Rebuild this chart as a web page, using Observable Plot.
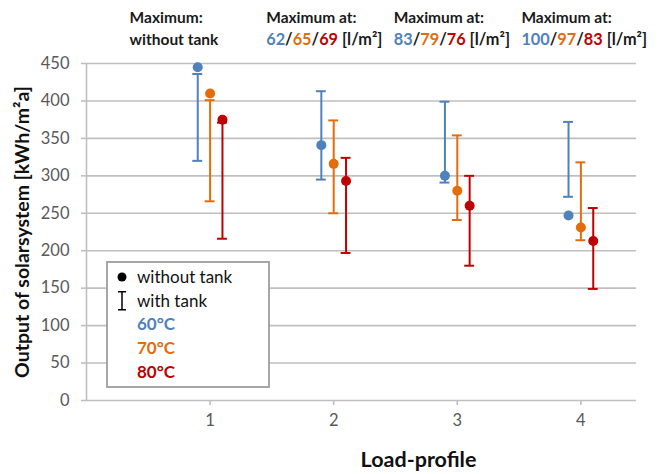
<!DOCTYPE html>
<html>
<head>
<meta charset="utf-8">
<script src="https://cdn.jsdelivr.net/npm/d3@7"></script>
<script src="https://cdn.jsdelivr.net/npm/@observablehq/plot@0.6"></script>
<style>
  html, body { margin: 0; padding: 0; background: #fff; }
  #chart { width: 671px; height: 474px; }
  svg { font-family: Lato, "Open Sans", sans-serif; }
</style>
</head>
<body>
<div id="chart"></div>
<script>
// ---- data ----
const categories = [1, 2, 3, 4];
const series = ["60°C", "70°C", "80°C"];
const seriesColors = ["#4f81bd", "#e46c0a", "#c00000"];
const yTicks = [0, 50, 100, 150, 200, 250, 300, 350, 400, 450];

// "without tank" (dots)
const without60 = [445, 341, 300, 247];
const without70 = [410, 316, 280, 231];
const without80 = [375, 293, 260, 213];
// "with tank" range (error bars)
const tankHigh60 = [436, 413, 399, 372];
const tankLow60  = [320, 295, 291, 272];
const tankHigh70 = [401, 374, 354, 318];
const tankLow70  = [266, 250, 241, 214];
const tankHigh80 = [371, 324, 300, 257];
const tankLow80  = [216, 197, 180, 149];

const noteTitles = ["Maximum:", "Maximum at:", "Maximum at:", "Maximum at:"];
const noteFirstLine = "without tank";
const maxAt60 = [null, 62, 83, 100];
const maxAt70 = [null, 65, 79, 97];
const maxAt80 = [null, 69, 76, 83];
const noteUnit = "[l/m²]";

const yLabel = "Output of solarsystem [kWh/m²a]";
const xLabel = "Load-profile";
const legendItems = ["without tank", "with tank"];

// ---- build table ----
const withoutBy = [without60, without70, without80];
const highBy = [tankHigh60, tankHigh70, tankHigh80];
const lowBy = [tankLow60, tankLow70, tankLow80];
const dodge = [-0.1, 0, 0.1];
const rows = [];
series.forEach((s, si) => categories.forEach((c, ci) => rows.push({
  series: s, cat: c, xp: c + dodge[si],
  dot: withoutBy[si][ci], hi: highBy[si][ci], lo: lowBy[si][ci]
})));

const grid = "#bfbfbf";
const capHalf = 0.04;

const plot = Plot.plot({
  width: 671,
  height: 474,
  marginLeft: 86,
  marginRight: 35,
  marginTop: 63,
  marginBottom: 74,
  x: {domain: [0, 4.45]},
  y: {domain: [0, 450]},
  color: {domain: series, range: seriesColors},
  style: {fontFamily: "Lato, 'Open Sans', sans-serif", background: "#fff"},
  marks: [
    Plot.ruleY(yTicks, {stroke: grid, strokeWidth: 1.6}),
    Plot.ruleX([0], {stroke: grid, strokeWidth: 1.6}),
    Plot.axisY({ticks: yTicks, tickSize: 5, tickPadding: 12, stroke: grid, strokeWidth: 1.6,
      fill: "#595959", fontSize: 16.5, label: null}),
    Plot.axisX({ticks: categories, tickSize: 5, tickPadding: 9, stroke: grid, strokeWidth: 1.6,
      fill: "#595959", fontSize: 16.5, label: null, tickFormat: d => d}),
    Plot.ruleX(rows, {x: "xp", y1: "lo", y2: "hi", stroke: "series", strokeWidth: 2}),
    Plot.ruleY(rows, {y: "hi", x1: d => d.xp - capHalf, x2: d => d.xp + capHalf, stroke: "series", strokeWidth: 2}),
    Plot.ruleY(rows, {y: "lo", x1: d => d.xp - capHalf, x2: d => d.xp + capHalf, stroke: "series", strokeWidth: 2}),
    Plot.dot(rows, {x: "xp", y: "dot", fill: "series", r: 5, stroke: "none"}),
    Plot.text([yLabel], {frameAnchor: "left", textAnchor: "middle", rotate: -90, dx: -64,
      fontSize: 19.5, fontWeight: "bold", fill: "#111"}),
    Plot.text([xLabel], {frameAnchor: "bottom", dx: 57, dy: 66, fontSize: 21.5, fontWeight: "bold", fill: "#111"})
  ]
});

document.getElementById("chart").appendChild(plot);

// ---- annotations at the top ----
const svg = d3.select(plot);
const xs = plot.scale("x");
const noteShift = [-80, -67, -63, -59];
const notes = svg.append("g").attr("font-family", "Lato, 'Open Sans', sans-serif")
  .attr("text-anchor", "start")
  .attr("font-weight", "bold").attr("font-size", 15.5).attr("fill", "#1a1a1a");
categories.forEach((c, i) => {
  const x0 = xs.apply(c) + noteShift[i];
  notes.append("text").attr("x", x0).attr("y", 23).text(noteTitles[i]);
  const t = notes.append("text").attr("x", x0).attr("y", 45).attr("font-size", 16.3);
  if (maxAt60[i] == null) {
    t.attr("font-size", 15.5).text(noteFirstLine);
  } else {
    t.append("tspan").attr("fill", seriesColors[0]).text(maxAt60[i]);
    t.append("tspan").text("/");
    t.append("tspan").attr("fill", seriesColors[1]).text(maxAt70[i]);
    t.append("tspan").text("/");
    t.append("tspan").attr("fill", seriesColors[2]).text(maxAt80[i]);
    t.append("tspan").text(" " + noteUnit);
  }
});

// ---- legend box ----
const lg = svg.append("g").attr("font-family", "Lato, 'Open Sans', sans-serif")
  .attr("text-anchor", "start").attr("font-size", 17);
const lx = 107, ly = 262;
lg.append("rect").attr("x", lx).attr("y", ly).attr("width", 162).attr("height", 125)
  .attr("fill", "#fff").attr("stroke", "#a6a6a6").attr("stroke-width", 2);
const rowH = 23.7;
const textX = lx + 30, iconX = lx + 15, firstY = ly + 15;
lg.append("circle").attr("cx", iconX).attr("cy", firstY).attr("r", 4.5).attr("fill", "#000");
const iy = firstY + rowH;
lg.append("path").attr("d", `M${iconX},${iy-9}V${iy+9}M${iconX-4},${iy-9}H${iconX+4}M${iconX-4},${iy+9}H${iconX+4}`)
  .attr("stroke", "#000").attr("stroke-width", 1.5).attr("fill", "none");
legendItems.forEach((t, i) => {
  lg.append("text").attr("x", textX).attr("y", firstY + i * rowH).attr("dy", "0.35em").attr("fill", "#111").text(t);
});
series.forEach((s, i) => {
  lg.append("text").attr("x", textX).attr("y", firstY + (i + 2) * rowH).attr("dy", "0.35em")
    .attr("fill", seriesColors[i]).attr("font-weight", "bold").text(s);
});
</script>
</body>
</html>
